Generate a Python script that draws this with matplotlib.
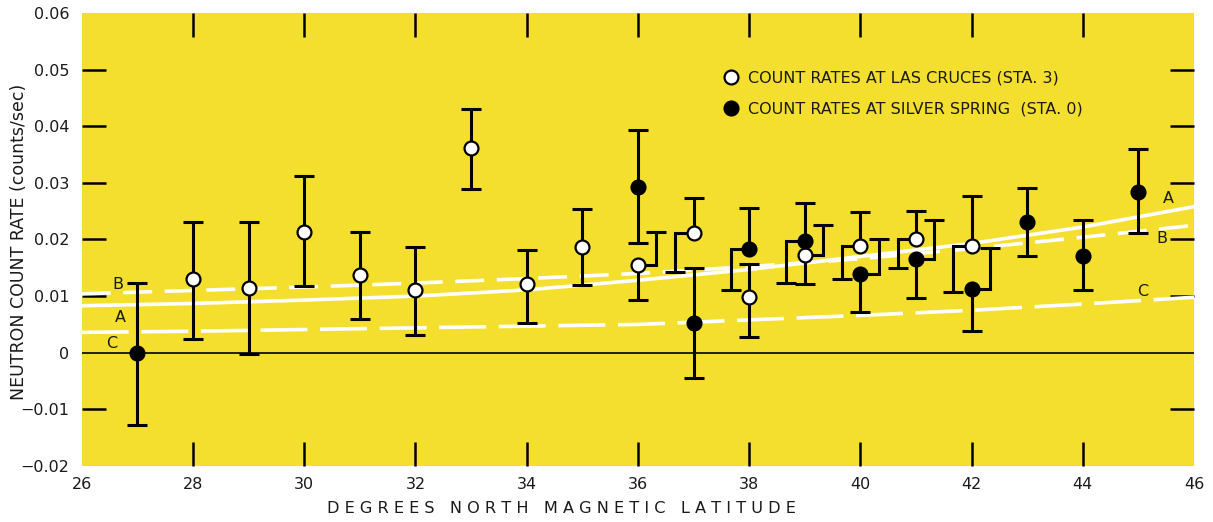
import numpy as np
import matplotlib.pyplot as plt
from matplotlib.lines import Line2D

# =====================================================
# DATA
# =====================================================

# Las Cruces (Sta. 3) - open circles
lc_lat = [28, 29, 30, 31, 32, 33, 34, 35, 36, 37, 38, 39, 40, 41, 42]
lc_rate = [0.0131, 0.0115, 0.0214, 0.0138, 0.0111, 0.0361, 0.0121, 0.0187,
           0.0155, 0.0211, 0.0098, 0.0173, 0.0188, 0.0201, 0.0189]
lc_low = [0.0025, -0.0002, 0.0117, 0.0060, 0.0032, 0.0289, 0.0052, 0.0120,
          0.0094, 0.0142, 0.0027, 0.0121, 0.0131, 0.0149, 0.0107]
lc_high = [0.0231, 0.0231, 0.0313, 0.0214, 0.0187, 0.0431, 0.0181, 0.0254,
           0.0213, 0.0273, 0.0157, 0.0226, 0.0249, 0.0251, 0.0277]
# which side each half of the error bar is drawn on (0 centre, -1 left, +1 right)
lc_low_side = [0, 0, 0, 0, 0, 0, 0, 0, 0, -1, 0, 0, -1, -1, -1]
lc_high_side = [0, 0, 0, 0, 0, 0, 0, 0, 1, 0, 0, 1, 0, 0, 0]

# Silver Spring (Sta. 0) - filled circles
ss_lat = [27, 36, 37, 38, 39, 40, 41, 42, 43, 44, 45]
ss_rate = [0.0000, 0.0292, 0.0052, 0.0183, 0.0198, 0.0139, 0.0166, 0.0113,
           0.0231, 0.0171, 0.0283]
ss_low = [-0.0127, 0.0194, -0.0045, 0.0110, 0.0124, 0.0072, 0.0097, 0.0039,
          0.0171, 0.0111, 0.0211]
ss_high = [0.0124, 0.0394, 0.0150, 0.0255, 0.0264, 0.0200, 0.0234, 0.0185,
           0.0291, 0.0234, 0.0360]
ss_low_side = [0, 0, 0, -1, -1, 0, 0, 0, 0, 0, 0]
ss_high_side = [0, 0, 0, 0, 0, 1, 1, 1, 0, 0, 0]

# Curves A, B, C
curve_lat = [26, 28, 30, 32, 34, 36, 38, 40, 42, 44, 46]
curve_a = [0.0083, 0.0087, 0.0093, 0.0100, 0.0111, 0.0128, 0.0147, 0.0170,
           0.0193, 0.0222, 0.0258]
curve_b = [0.0104, 0.0110, 0.0116, 0.0123, 0.0131, 0.0140, 0.0152, 0.0166,
           0.0184, 0.0204, 0.0225]
curve_c = [0.0036, 0.0038, 0.0041, 0.0044, 0.0047, 0.0050, 0.0058, 0.0066,
           0.0075, 0.0086, 0.0098]

x_ticks = list(range(26, 47, 2))
y_ticks = [-0.02, -0.01, 0, 0.01, 0.02, 0.03, 0.04, 0.05, 0.06]
y_labels = ['\u22120.02', '\u22120.01', '0', '0.01', '0.02', '0.03',
            '0.04', '0.05', '0.06']

# =====================================================
# STYLE
# =====================================================

plt.rcParams['font.family'] = ['DejaVu Sans']
YELLOW = '#f5df2e'
TXT = '#1a1a1a'
SHIFT = 0.33      # offset of displaced error bar halves (degrees)
LW = 2.2
CAP = 14
FS = 11.5

fig = plt.figure(figsize=(12.13, 5.22), dpi=100)
ax = fig.add_axes([0.0674, 0.1073, 0.9170, 0.8678])
ax.set_facecolor(YELLOW)
for s in ax.spines.values():
    s.set_visible(False)

ax.set_xlim(26, 46)
ax.set_ylim(-0.02, 0.06)

# zero line
ax.axhline(0, color='black', lw=1.2, zorder=2)

# curves
ax.plot(curve_lat, curve_a, color='white', lw=2.6, zorder=3)
ax.plot(curve_lat, curve_b, color='white', lw=2.6, dashes=(8, 3.5), zorder=3)
ax.plot(curve_lat, curve_c, color='white', lw=2.6, dashes=(13, 3.5), zorder=3)


def half_bar(x, y, end, side):
    xb = x + side * SHIFT
    if side != 0:
        ax.plot([x, xb], [y, y], color='black', lw=LW, solid_capstyle='projecting', zorder=4)
    ax.plot([xb, xb], [y, end], color='black', lw=LW, solid_capstyle='butt', zorder=4)
    ax.plot([xb], [end], marker='_', ms=CAP, mew=LW, color='black', zorder=4)


for x, y, lo, hi, sl, sh in zip(lc_lat, lc_rate, lc_low, lc_high, lc_low_side, lc_high_side):
    half_bar(x, y, lo, sl)
    half_bar(x, y, hi, sh)
for x, y, lo, hi, sl, sh in zip(ss_lat, ss_rate, ss_low, ss_high, ss_low_side, ss_high_side):
    half_bar(x, y, lo, sl)
    half_bar(x, y, hi, sh)

ax.plot(lc_lat, lc_rate, 'o', ms=10, mfc='white', mec='black', mew=1.6, zorder=5)
ax.plot(ss_lat, ss_rate, 'o', ms=10, mfc='black', mec='black', mew=1.6, zorder=5)

# curve labels
for x, y, t in [(26.65, 0.0120, 'B'), (26.69, 0.0062, 'A'), (26.54, 0.0016, 'C'),
                (45.53, 0.0272, 'A'), (45.42, 0.0201, 'B'), (45.08, 0.0108, 'C')]:
    ax.text(x, y, t, fontsize=FS, ha='center', va='center', color=TXT)

# ticks: inward marks, none on the frame edges or the zero line
ax.set_xticks(x_ticks)
ax.set_yticks(y_ticks)
ax.set_yticklabels(y_labels)
ax.tick_params(direction='in', length=17, width=1.8, top=True, right=True,
               color='black', labelsize=FS, labelcolor=TXT)
ax.tick_params(axis='x', pad=8)
ax.tick_params(axis='y', pad=9)
xt = ax.xaxis.get_major_ticks()
for t in (xt[0], xt[-1]):
    t.tick1line.set_visible(False)
    t.tick2line.set_visible(False)
yt = ax.yaxis.get_major_ticks()
for t in (yt[0], yt[2], yt[-1]):
    t.tick1line.set_visible(False)
    t.tick2line.set_visible(False)

fig.text(0.4625, 0.025, 'D E G R E E S   N O R T H   M A G N E T I C   L A T I T U D E',
         fontsize=11.6, ha='center', va='center', color=TXT)
fig.text(0.0155, 0.536, 'NEUTRON COUNT RATE (counts/sec)', fontsize=12.5,
         rotation=90, ha='center', va='center', color=TXT)

handles = [Line2D([], [], ls='none', marker='o', ms=10, mfc='white', mec='black', mew=1.6),
           Line2D([], [], ls='none', marker='o', ms=10, mfc='black', mec='black', mew=1.6)]
ax.legend(handles, ['COUNT RATES AT LAS CRUCES (STA. 3)',
                    'COUNT RATES AT SILVER SPRING  (STA. 0)'],
          loc='upper left', bbox_to_anchor=(0.5766, 0.872), frameon=False,
          fontsize=FS, borderpad=0, handlelength=1, handletextpad=0.55,
          labelspacing=0.95, borderaxespad=0, labelcolor=TXT)

fig.savefig('out.png', dpi=100, facecolor='white')
